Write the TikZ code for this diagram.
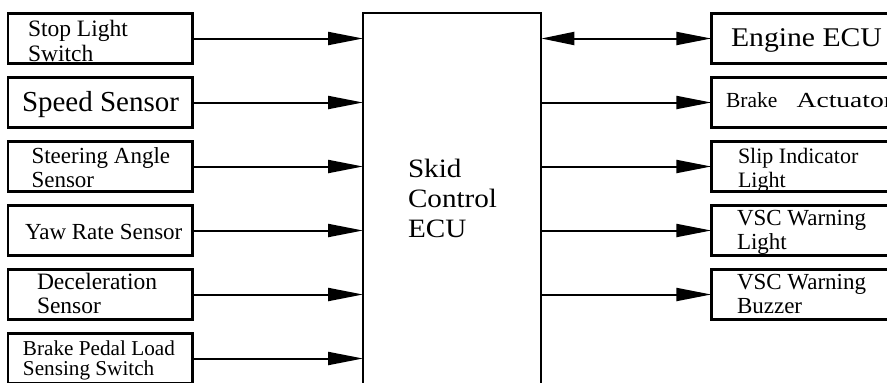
\documentclass[tikz,border=0pt]{standalone}
\usepackage{fontspec}
\setmainfont{Liberation Serif}
\newfontfamily\widefont[FakeStretch=1.1]{Liberation Serif}
\newfontfamily\xwidefont[FakeStretch=1.28]{Liberation Serif}
\usetikzlibrary{arrows.meta}
\begin{document}
\begin{tikzpicture}[x=1pt,y=-1pt,
  lbox/.style={draw, line width=2.4pt, minimum width=184.3pt, minimum height=50pt, inner sep=0pt, outer sep=0pt},
  rbox/.style={draw, line width=2.4pt, minimum width=194pt, minimum height=50pt, inner sep=0pt, outer sep=0pt},
  ecubox/.style={draw, line width=2.2pt, minimum width=178.3pt, minimum height=406.7pt, inner sep=0pt, outer sep=0pt},
  lbl/.style={anchor=base west, inner sep=0pt, outer sep=0pt, align=left},
  arr/.style={line width=2pt, -{Triangle[length=35pt,width=13pt]}},
  darr/.style={line width=2pt, {Triangle[length=33pt,width=13pt]}-{Triangle[length=35pt,width=13pt]}}]
\useasboundingbox (0,0) rectangle (887,383);
\clip (0,0) rectangle (887,383);
% central ECU
\node[ecubox] (ecu) at (452.2,216.7) {};
\node[lbl, font=\widefont\fontsize{26.5}{30}\selectfont] (ecut) at (408,237) {Skid\\Control\\ECU};
% left boxes
\node[lbox] (stop)  at (100.2,38.5) {};
\node[lbox] (speed) at (100.2,102.5) {};
\node[lbox] (steer) at (100.2,166.5) {};
\node[lbox] (yaw)   at (100.2,230.5) {};
\node[lbox] (decel) at (100.2,294.5) {};
\node[lbox] (pedal) at (100.2,358.5) {};
\node[lbl, font=\fontsize{23.5}{25}\selectfont] (stopt) at (28,61) {Stop Light\\Switch};
\node[lbl, font=\fontsize{29}{30}\selectfont] (speedt) at (22,111) {Speed Sensor};
\node[lbl, font=\fontsize{23}{24}\selectfont] (steert) at (31.5,187.5) {Steering Angle\\Sensor};
\node[lbl, font=\fontsize{23}{24}\selectfont] (yawt) at (25,239) {Yaw Rate Sensor};
\node[lbl, font=\fontsize{23.5}{24}\selectfont] (decelt) at (37,313) {Deceleration\\Sensor};
\node[lbl, font=\fontsize{21.2}{20.5}\selectfont] (pedalt) at (23,375.5) {Brake Pedal Load\\Sensing Switch};
% right boxes
\node[rbox] (eng)  at (808.3,38.5) {};
\node[rbox] (act)  at (808.3,102.5) {};
\node[rbox] (slip) at (808.3,166.5) {};
\node[rbox] (vscl) at (808.3,230.5) {};
\node[rbox] (vscb) at (808.3,294.5) {};
\node[lbl, font=\widefont\fontsize{27}{30}\selectfont] (engt) at (731,46) {Engine ECU};
\node[lbl, font=\fontsize{21.5}{24}\selectfont] (actt) at (726,107) {Brake\hspace{14pt} {\xwidefont Actuator}};
\node[lbl, font=\fontsize{22}{24}\selectfont] (slipt) at (738,187) {Slip Indicator\\Light};
\node[lbl, font=\fontsize{23}{24}\selectfont] (vsclt) at (737,249) {VSC Warning\\Light};
\node[lbl, font=\fontsize{23}{24}\selectfont] (vscbt) at (737,313) {VSC Warning\\Buzzer};
% connectors
\foreach \n in {stop,speed,steer,yaw,decel,pedal}
  \draw[arr] (\n.east) -- (\n.east -| ecu.west);
\draw[darr] (ecu.east |- eng.west) -- (eng.west);
\foreach \n in {act,slip,vscl,vscb}
  \draw[arr] (ecu.east |- \n.west) -- (\n.west);
\end{tikzpicture}
\end{document}
